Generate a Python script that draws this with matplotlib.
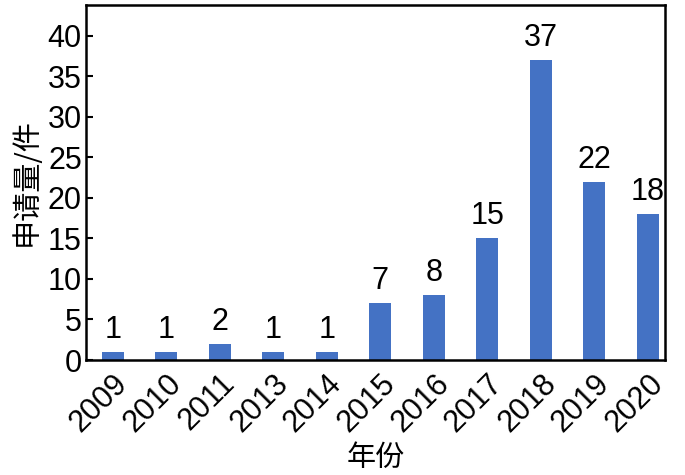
import matplotlib.pyplot as plt

years = ['2009', '2010', '2011', '2013', '2014', '2015', '2016', '2017', '2018', '2019', '2020']
counts = [1, 1, 2, 1, 1, 7, 8, 15, 37, 22, 18]

plt.rcParams['font.family'] = ['Liberation Sans', 'Noto Sans CJK SC', 'DejaVu Sans']

fig = plt.figure(figsize=(6.85, 4.75), dpi=100)
ax = fig.add_axes([86 / 685, 1 - 360 / 475, 579 / 685, 355 / 475])

x = range(len(years))
bars = ax.bar(x, counts, width=0.41, color='#4472C4')
for b, v in zip(bars, counts):
    ax.annotate(str(v), (b.get_x() + b.get_width() / 2, v), xytext=(0, 5),
                textcoords='offset points', ha='center', va='bottom', fontsize=22)

ax.set_xlim(-0.5, 10.32)
ax.set_ylim(0, 43.8)
ax.set_yticks(range(0, 45, 5))
ax.set_xticks(list(x))
ax.set_xticklabels(years, rotation=45, ha='right', rotation_mode='anchor', fontsize=22)
ax.tick_params(axis='y', direction='in', labelsize=22, length=5, width=1.5, pad=3)
ax.tick_params(axis='x', length=0, pad=6)
for s in ax.spines.values():
    s.set_linewidth(1.8)

ax.set_xlabel('年份', fontsize=21, family=['Noto Sans CJK SC'], fontweight='light', labelpad=4)
ax.set_ylabel('申请量/件', fontsize=21, family=['Noto Sans CJK SC'], fontweight='light', labelpad=4)

fig.savefig('out.png', dpi=100)
